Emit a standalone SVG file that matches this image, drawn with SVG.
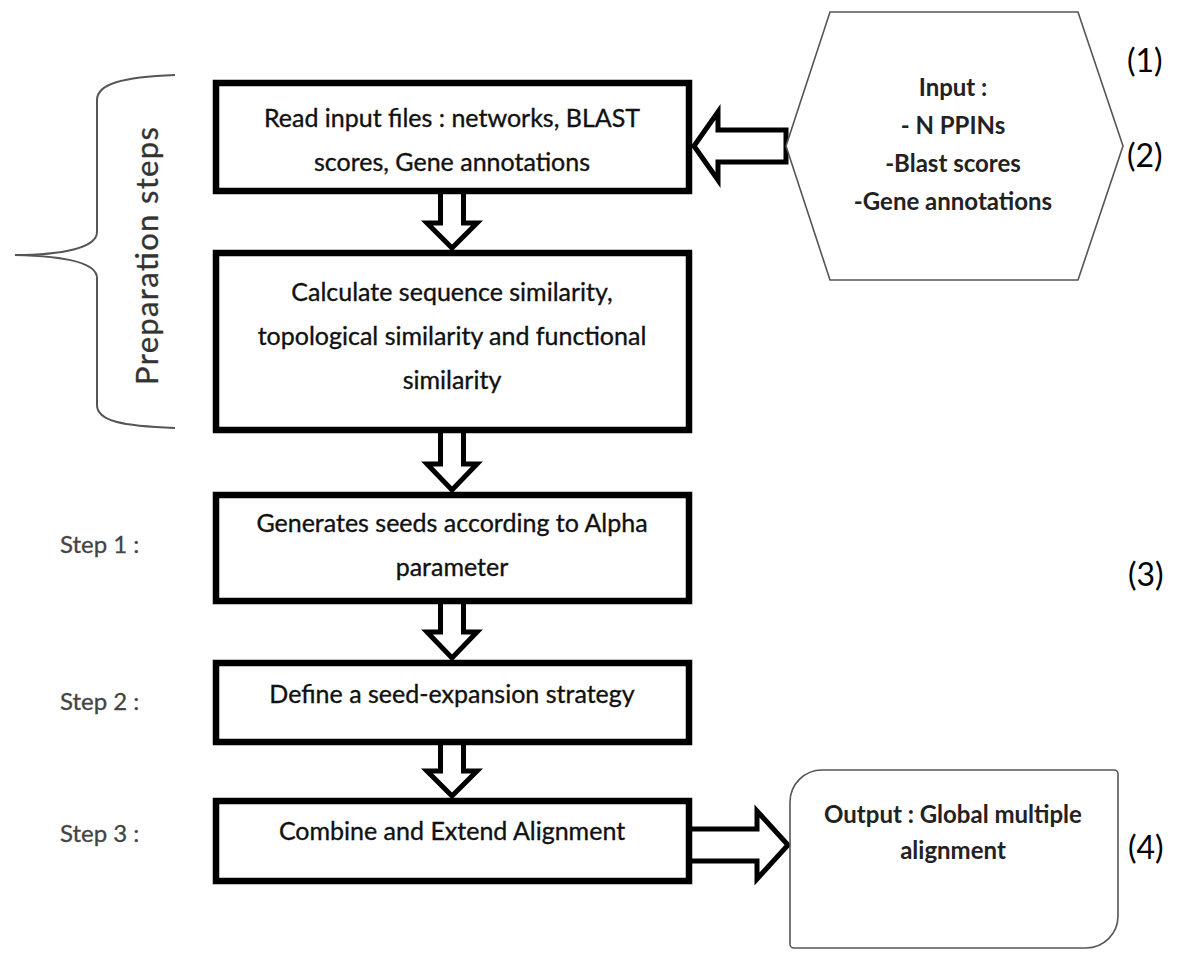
<svg xmlns="http://www.w3.org/2000/svg" width="1182" height="958" viewBox="0 0 1182 958">
<style>
.box{fill:#fff;stroke:#000;stroke-width:6.5}
.arr{fill:#fff;stroke:#000;stroke-width:5;stroke-linejoin:miter}
.t{font-family:Lato,"Open Sans",sans-serif;font-size:25px;fill:#111;stroke:#111;stroke-width:0.35;text-anchor:middle}
.tb{font-family:Lato,"Open Sans",sans-serif;font-size:24px;font-weight:bold;fill:#222;text-anchor:middle}
.step{font-family:Lato,"Open Sans",sans-serif;font-size:24px;fill:#444;stroke:#444;stroke-width:0.3}
.num{font-family:Lato,"Open Sans",sans-serif;font-size:32px;fill:#000}
.thin{fill:#fff;stroke:#555;stroke-width:1.6}
</style>
<g id="brace">
<path d="M175,75 C122,77 97,84 97,100 L97,232 C97,248 62,255 15,255 C62,256 97,262 97,278 L97,405 C97,421 122,426 175,428" fill="none" stroke="#555" stroke-width="2"/>
<text transform="rotate(-90 158 256)" x="158" y="256" font-family="Lato,'Open Sans',sans-serif" font-size="31" fill="#333" stroke="#333" stroke-width="0.3" text-anchor="middle" textLength="258" lengthAdjust="spacing">Preparation steps</text>
</g>
<g id="connectors">
<polygon class="arr" points="440.5,191 463.5,191 463.5,223 477,223 452,248 427,223 440.5,223"/>
<polygon class="arr" points="440.5,430 463.5,430 463.5,464 477,464 452,490 427,464 440.5,464"/>
<polygon class="arr" points="440.5,601 463.5,601 463.5,632 477,632 452,658 427,632 440.5,632"/>
<polygon class="arr" points="440.5,742 463.5,742 463.5,771 477,771 452,796 427,771 440.5,771"/>
<polygon class="arr" points="786,130 718,130 718,112 694,146 718,180 718,162 786,162"/>
<polygon class="arr" points="689,829 757,829 757,811 788,845 757,879 757,861 689,861"/>
</g>
<g id="read-input">
<rect class="box" x="216" y="83" width="473" height="108"/>
<text class="t" x="452" y="127">Read input files : networks, BLAST</text>
<text class="t" x="452" y="171">scores, Gene annotations</text>
</g>
<g id="calculate">
<rect class="box" x="216" y="253" width="473" height="177"/>
<text class="t" x="452" y="301">Calculate sequence similarity,</text>
<text class="t" x="452" y="345">topological similarity and functional</text>
<text class="t" x="452" y="389">similarity</text>
</g>
<g id="step1">
<text class="step" x="60" y="553">Step 1 :</text>
<rect class="box" x="216" y="495" width="473" height="106"/>
<text class="t" x="452" y="532">Generates seeds according to Alpha</text>
<text class="t" x="452" y="576">parameter</text>
</g>
<g id="step2">
<text class="step" x="60" y="710">Step 2 :</text>
<rect class="box" x="216" y="663" width="473" height="79"/>
<text class="t" x="452" y="703">Define a seed-expansion strategy</text>
</g>
<g id="step3">
<text class="step" x="60" y="842">Step 3 :</text>
<rect class="box" x="216" y="801" width="473" height="80"/>
<text class="t" x="452" y="840">Combine and Extend Alignment</text>
</g>
<g id="input">
<polygon class="thin" points="786,146 830,12 1078,12 1123,146 1078,280 830,280"/>
<text class="tb" x="953" y="96">Input :</text>
<text class="tb" x="953" y="134">- N PPINs</text>
<text class="tb" x="953" y="172">-Blast scores</text>
<text class="tb" x="953" y="210">-Gene annotations</text>
</g>
<g id="output">
<path class="thin" d="M822,770 L1114,770 A4,4 0 0 1 1118,774 L1118,916 A32,32 0 0 1 1086,948 L794,948 A4,4 0 0 1 790,944 L790,802 A32,32 0 0 1 822,770 Z"/>
<text class="tb" x="953" y="823">Output : Global multiple</text>
<text class="tb" x="953" y="859">alignment</text>
</g>
<g id="labels">
<text class="num" x="1127" y="72">(1)</text>
<text class="num" x="1127" y="167">(2)</text>
<text class="num" x="1128" y="586">(3)</text>
<text class="num" x="1128" y="859">(4)</text>
</g>
</svg>
